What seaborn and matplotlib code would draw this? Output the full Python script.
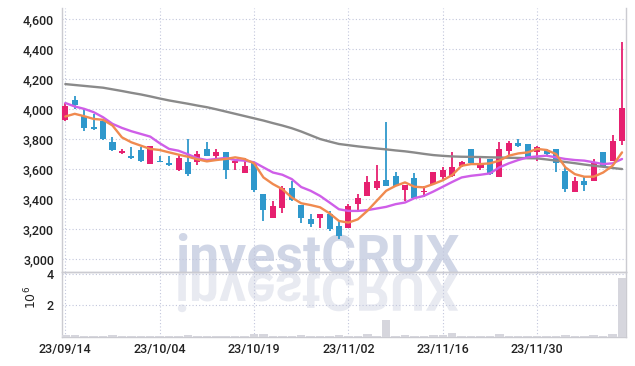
import numpy as np
import pandas as pd
import matplotlib
matplotlib.use("Agg")
import matplotlib.pyplot as plt
import seaborn as sns
import matplotlib.transforms as mtransforms
from matplotlib.textpath import TextPath
from matplotlib.patches import PathPatch
from matplotlib.font_manager import FontProperties
from matplotlib.ticker import FixedLocator, FixedFormatter

# ---------------- data ----------------
dates = ["23/09/14", "23/09/15", "23/09/18", "23/09/19", "23/09/20", "23/09/21", "23/09/22",
         "23/09/25", "23/09/26", "23/09/27",
         "23/10/04", "23/10/05", "23/10/06", "23/10/10", "23/10/11", "23/10/12", "23/10/13",
         "23/10/16", "23/10/17", "23/10/18", "23/10/19", "23/10/20", "23/10/23", "23/10/24",
         "23/10/25", "23/10/26", "23/10/27", "23/10/30", "23/10/31",
         "23/11/01", "23/11/02", "23/11/03", "23/11/06", "23/11/07", "23/11/08", "23/11/09",
         "23/11/10", "23/11/13", "23/11/14", "23/11/15", "23/11/16", "23/11/17", "23/11/20",
         "23/11/21", "23/11/22", "23/11/23", "23/11/24", "23/11/27", "23/11/28", "23/11/29",
         "23/11/30",
         "23/12/01", "23/12/04", "23/12/05", "23/12/06", "23/12/07", "23/12/08", "23/12/11",
         "23/12/12", "23/12/13"]

open_ = [3930, 4057, 3952, 3878, 3918, 3778, 3704, 3689, 3729, 3632,
         3656, 3642, 3595, 3649, 3645, 3734, 3689, 3711, 3638, 3571,
         3638, 3433, 3276, 3339, 3477, 3361, 3270, 3276, 3299, 3221,
         3205, 3370, 3421, 3477, 3526, 3555, 3461, 3540, 3444, 3500,
         3550, 3555, 3622, 3734, 3607, 3667, 3549, 3719, 3774, 3767,
         3716, 3729, 3734, 3589, 3444, 3517, 3522, 3711, 3651, 3790]
close = [4017, 4024, 3874, 3865, 3801, 3727, 3718, 3671, 3656, 3752,
         3645, 3629, 3672, 3568, 3700, 3689, 3711, 3595, 3656, 3622,
         3460, 3326, 3354, 3477, 3393, 3276, 3236, 3303, 3199, 3154,
         3355, 3410, 3511, 3522, 3488, 3488, 3495, 3410, 3455, 3577,
         3591, 3611, 3649, 3638, 3629, 3566, 3734, 3774, 3751, 3674,
         3745, 3700, 3638, 3466, 3517, 3495, 3638, 3616, 3785, 4010]
high = [4037, 4084, 4005, 3968, 3930, 3811, 3736, 3746, 3746, 3752,
        3689, 3689, 3696, 3803, 3722, 3778, 3734, 3711, 3667, 3671,
        3638, 3433, 3388, 3488, 3522, 3361, 3299, 3303, 3321, 3254,
        3370, 3433, 3555, 3628, 3912, 3577, 3495, 3571, 3488, 3577,
        3611, 3711, 3656, 3734, 3678, 3667, 3778, 3784, 3800, 3767,
        3756, 3734, 3734, 3611, 3544, 3544, 3667, 3711, 3829, 4445]
low = [3920, 3997, 3856, 3862, 3796, 3719, 3702, 3667, 3647, 3632,
       3645, 3622, 3589, 3555, 3629, 3689, 3660, 3533, 3595, 3571,
       3444, 3254, 3276, 3310, 3388, 3243, 3214, 3205, 3187, 3132,
       3205, 3321, 3421, 3460, 3488, 3488, 3388, 3406, 3415, 3495,
       3533, 3550, 3616, 3638, 3595, 3560, 3549, 3696, 3746, 3674,
       3656, 3695, 3577, 3450, 3444, 3455, 3522, 3616, 3651, 3758]
volume_m = [0.08, 0.08, 0.06, 0.03, 0.03, 0.09, 0.03, 0.03, 0.03, 0.04,
            0.04, 0.03, 0.04, 0.10, 0.03, 0.03, 0.04, 0.05, 0.04, 0.05,
            0.15, 0.15, 0.05, 0.04, 0.05, 0.08, 0.03, 0.04, 0.06, 0.07,
            0.05, 0.06, 0.18, 0.05, 1.05, 0.06, 0.07, 0.06, 0.05, 0.08,
            0.07, 0.20, 0.06, 0.04, 0.04, 0.05, 0.14, 0.05, 0.04, 0.04,
            0.04, 0.03, 0.04, 0.08, 0.05, 0.05, 0.08, 0.05, 0.18, 3.75]
ma_short = [3950, 3968, 3952, 3934, 3928, 3890, 3811, 3778, 3756, 3734,
            3727, 3711, 3696, 3682, 3665, 3651, 3660, 3667, 3678, 3667,
            3638, 3544, 3500, 3466, 3410, 3372, 3360, 3345, 3305, 3254,
            3243, 3265, 3321, 3388, 3455, 3488, 3511, 3482, 3478, 3500,
            3525, 3560, 3622, 3633, 3633, 3638, 3656, 3689, 3704, 3711,
            3734, 3727, 3700, 3611, 3566, 3549, 3549, 3577, 3622, 3711]
ma_mid = [4040, 4017, 4001, 3979, 3945, 3901, 3874, 3852, 3834, 3816,
          3772, 3734, 3722, 3698, 3672, 3660, 3667, 3674, 3660, 3656,
          3645, 3611, 3577, 3562, 3533, 3480, 3455, 3421, 3377, 3332,
          3321, 3321, 3326, 3337, 3348, 3366, 3377, 3406, 3421, 3450,
          3482, 3514, 3544, 3555, 3562, 3571, 3611, 3638, 3660, 3678,
          3684, 3689, 3678, 3667, 3660, 3656, 3645, 3633, 3638, 3667]
ma_long = [4166, 4160, 4154, 4148, 4142, 4131, 4120, 4108, 4097, 4084,
           4070, 4057, 4046, 4035, 4023, 4012, 3998, 3983, 3968, 3953,
           3938, 3923, 3906, 3890, 3872, 3850, 3825, 3800, 3783, 3767,
           3759, 3751, 3744, 3737, 3731, 3724, 3718, 3710, 3701, 3693,
           3688, 3684, 3682, 3681, 3680, 3678, 3677, 3675, 3674, 3672,
           3671, 3664, 3656, 3647, 3639, 3630, 3622, 3615, 3607, 3600]
price_ticks = [3000, 3200, 3400, 3600, 3800, 4000, 4200, 4400, 4600]
vol_ticks_m = [2, 4]

# ---------------- style ----------------
sns.set_style("white")
plt.rcParams["font.family"] = ["Roboto", "DejaVu Sans"]

UP = "#e6206f"
DOWN = "#2f98cc"
GRID = "#c2c6dc"
SPINE = "#cbcbd1"
TXT = "#222222"

W, H = 635, 366
fig = plt.figure(figsize=(W / 100, H / 100), dpi=100, facecolor="white")
left_px, right_px = 62.3, 626.0
top_px, mid_px, bot_px = 8.3, 272.0, 336.5
ax1 = fig.add_axes([left_px / W, 1 - mid_px / H, (right_px - left_px) / W, (mid_px - top_px) / H])
ax2 = fig.add_axes([left_px / W, 1 - bot_px / H, (right_px - left_px) / W, (bot_px - mid_px) / H])
for a in (ax1, ax2):
    a.set_facecolor("none")

n = len(dates)
idx = np.arange(n)
o = np.array(open_, float)
c = np.array(close, float)
hi = np.array(high, float)
lo = np.array(low, float)
cols = [UP if cc >= oo else DOWN for oo, cc in zip(o, c)]

# candles
ax1.vlines(idx, lo, hi, colors=cols, linewidth=1.3, zorder=3)
body_h = np.maximum(np.abs(c - o), 7)
ax1.bar(idx, body_h, bottom=np.minimum(o, c), width=0.64, color=cols, linewidth=0, zorder=4)

# moving averages via seaborn
ma_df = pd.DataFrame({
    "idx": np.concatenate([idx, idx, idx]),
    "value": ma_long + ma_mid + ma_short,
    "series": ["long"] * n + ["mid"] * n + ["short"] * n,
})
pal = {"long": "#8a8a8a", "mid": "#cf5ee8", "short": "#f08a4f"}
sns.lineplot(data=ma_df, x="idx", y="value", hue="series", palette=pal,
             linewidth=1.7, legend=False, errorbar=None, ax=ax1, zorder=5)

# volume via seaborn
vol_df = pd.DataFrame({"idx": idx, "vol": np.array(volume_m) * 1e6})
sns.barplot(data=vol_df, x="idx", y="vol", native_scale=True, color="#d6d6dd",
            saturation=1, width=0.9, linewidth=0, ax=ax2, zorder=3)

# axes limits & ticks
for a in (ax1, ax2):
    a.set_xlim(-0.32, 59.42)
    a.set_xlabel("")
    a.set_ylabel("")
    a.tick_params(length=0, colors=TXT, labelsize=9)
    a.grid(True, color=GRID, linestyle=(0, (1, 2)), linewidth=0.8)
    a.set_axisbelow(True)
    for s in a.spines.values():
        s.set_color(SPINE)
        s.set_linewidth(1.0)
    for lab in a.get_xticklabels() + a.get_yticklabels():
        lab.set_fontweight("medium")

ax1.set_ylim(2914, 4671)
ax1.yaxis.set_major_locator(FixedLocator(price_ticks))
ax1.yaxis.set_major_formatter(FixedFormatter([f"{v:,}" for v in price_ticks]))
ax1.xaxis.set_major_locator(FixedLocator(idx[::10]))
ax1.tick_params(axis="x", labelbottom=False)
ax1.tick_params(axis="y", pad=6)
ax1.spines["top"].set_visible(False)

ax2.set_ylim(0, 4.16e6)
ax2.yaxis.set_major_locator(FixedLocator([v * 1e6 for v in vol_ticks_m]))
ax2.yaxis.set_major_formatter(FixedFormatter([str(v) for v in vol_ticks_m]))
ax2.xaxis.set_major_locator(FixedLocator(idx[::10]))
ax2.xaxis.set_major_formatter(FixedFormatter(dates[::10]))
ax2.tick_params(axis="y", pad=6)
ax2.tick_params(axis="x", pad=5)
for a in (ax1, ax2):
    for lab in a.get_xticklabels() + a.get_yticklabels():
        lab.set_fontweight("medium")

fig.text(31 / W, 1 - 297 / H, r"$10^{6}$", rotation=90, ha="center", va="center",
         fontsize=9, color=TXT)

# watermark (behind the transparent axes)
wm_size = 38.5
base_y = H - 272.7
fig.text(175 / W, base_y / H, "investCRUX", fontsize=wm_size, fontweight="bold",
         family=["Roboto", "DejaVu Sans"], color="#d0d6e6", ha="left", va="baseline", zorder=-2)
tp = TextPath((0, 0), "investCRUX", size=wm_size * 100 / 72,
              prop=FontProperties(family="Roboto", weight="bold"))
trans = mtransforms.Affine2D().scale(1, -1).translate(175, base_y)
fig.add_artist(PathPatch(tp, transform=trans, facecolor="#e8eaf1", edgecolor="none", zorder=-3))

fig.savefig("out.png", dpi=100, facecolor="white")
